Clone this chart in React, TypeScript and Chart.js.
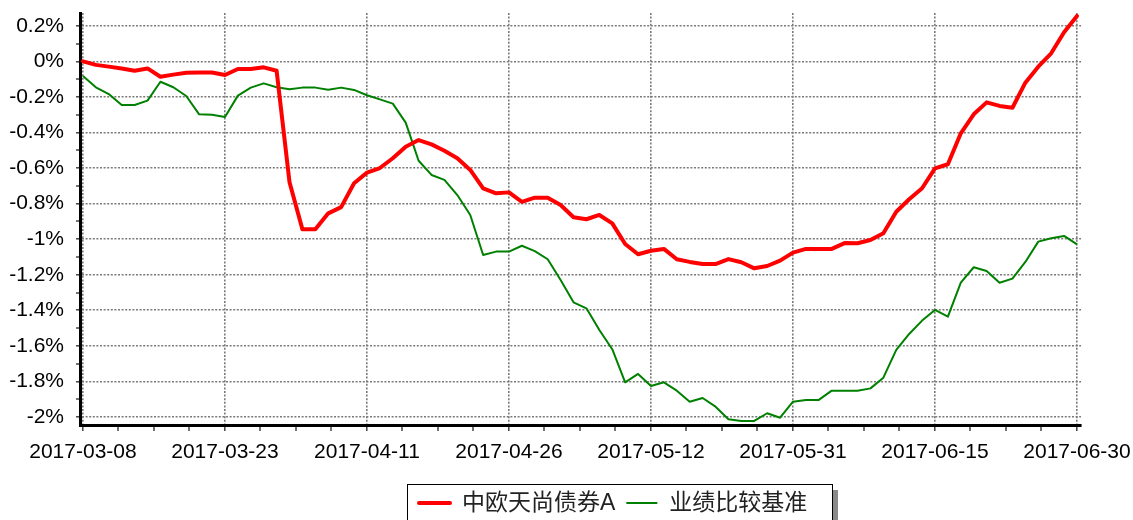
import React, { useEffect, useRef } from 'react';
import { Chart, registerables } from 'chart.js';

Chart.register(...registerables);

const dates: string[] = [
  '2017-03-08', '2017-03-09', '2017-03-10', '2017-03-13', '2017-03-14', '2017-03-15', '2017-03-16', '2017-03-17', '2017-03-20', '2017-03-21', '2017-03-22', '2017-03-23', '2017-03-24', '2017-03-27', '2017-03-28', '2017-03-29', '2017-03-30', '2017-03-31',
  '2017-04-05', '2017-04-06', '2017-04-07', '2017-04-10', '2017-04-11', '2017-04-12', '2017-04-13', '2017-04-14', '2017-04-17', '2017-04-18', '2017-04-19', '2017-04-20', '2017-04-21', '2017-04-24', '2017-04-25', '2017-04-26', '2017-04-27', '2017-04-28',
  '2017-05-02', '2017-05-03', '2017-05-04', '2017-05-05', '2017-05-08', '2017-05-09', '2017-05-10', '2017-05-11', '2017-05-12', '2017-05-15', '2017-05-16', '2017-05-17', '2017-05-18', '2017-05-19', '2017-05-22', '2017-05-23', '2017-05-24', '2017-05-25', '2017-05-26', '2017-05-31',
  '2017-06-01', '2017-06-02', '2017-06-05', '2017-06-06', '2017-06-07', '2017-06-08', '2017-06-09', '2017-06-12', '2017-06-13', '2017-06-14', '2017-06-15', '2017-06-16', '2017-06-19', '2017-06-20', '2017-06-21', '2017-06-22', '2017-06-23', '2017-06-26', '2017-06-27', '2017-06-28', '2017-06-29', '2017-06-30',
];

const fundName = '中欧天尚债券A';
const benchName = '业绩比较基准';

// cumulative return, %
const fundValues: number[] = [
  0.0, -0.02, -0.03, -0.04, -0.053, -0.04, -0.087, -0.075, -0.064, -0.063, -0.063, -0.077, -0.043, -0.043, -0.034, -0.053, -0.68, -0.945,
  -0.945, -0.855, -0.82, -0.686, -0.626, -0.6, -0.545, -0.48, -0.443, -0.467, -0.503, -0.545, -0.611, -0.714, -0.742, -0.737, -0.79, -0.767,
  -0.767, -0.808, -0.877, -0.888, -0.864, -0.911, -1.027, -1.085, -1.065, -1.055, -1.113, -1.128, -1.14, -1.14, -1.112, -1.13, -1.164, -1.151, -1.121, -1.076,
  -1.055, -1.055, -1.055, -1.022, -1.023, -1.005, -0.967, -0.846, -0.776, -0.714, -0.602, -0.579, -0.405, -0.298, -0.231, -0.251, -0.261, -0.12, -0.03, 0.045, 0.163, 0.255,
];

const benchValues: number[] = [
  -0.083, -0.146, -0.184, -0.246, -0.246, -0.221, -0.115, -0.146, -0.195, -0.298, -0.3, -0.313, -0.193, -0.148, -0.124, -0.146, -0.157, -0.148,
  -0.148, -0.16, -0.148, -0.161, -0.191, -0.214, -0.238, -0.345, -0.559, -0.639, -0.667, -0.752, -0.864, -1.089, -1.07, -1.07, -1.037, -1.067,
  -1.113, -1.23, -1.355, -1.389, -1.511, -1.619, -1.805, -1.758, -1.826, -1.805, -1.852, -1.914, -1.893, -1.942, -2.013, -2.022, -2.022, -1.979, -2.004, -1.914,
  -1.904, -1.904, -1.852, -1.852, -1.852, -1.839, -1.779, -1.623, -1.533, -1.458, -1.398, -1.436, -1.245, -1.158, -1.179, -1.245, -1.222, -1.128, -1.014, -0.995, -0.982, -1.029,
];

// y ticks (every 0.1%, labelled every 0.2%)
const yTicks: number[] = [
  -2.0, -1.9, -1.8, -1.7, -1.6, -1.5, -1.4, -1.3, -1.2, -1.1, -1.0, -0.9, -0.8, -0.7, -0.6, -0.5, -0.4, -0.3, -0.2, -0.1, 0.0, 0.1, 0.2,
];

const labelEvery = 11; // a date label every 11 trading days
const minorPerLabel = 4; // tick marks between labels

const FONT = '"Liberation Sans", Arial, "Noto Sans CJK SC", sans-serif';

const isMajorX = (v: number) => Math.abs(v / labelEvery - Math.round(v / labelEvery)) < 1e-6;
const isMajorY = (v: number) => Math.round(v * 10) % 2 === 0;

export default function App() {
  const ref = useRef<HTMLCanvasElement | null>(null);

  useEffect(() => {
    if (!ref.current) return;
    const minorStep = labelEvery / minorPerLabel;
    const xTickValues: number[] = [];
    for (let v = 0; v <= dates.length - 1 + 1e-9; v += minorStep) xTickValues.push(Math.round(v * 100) / 100);

    const legendBox = {
      id: 'legendBox',
      afterDraw(chart: any) {
        const ctx: CanvasRenderingContext2D = chart.ctx;
        const left = 407;
        const top = 484;
        const right = 832;
        const cy = 503;
        ctx.save();
        // shadow
        ctx.fillStyle = '#8a8a8a';
        ctx.fillRect(right + 1, top + 6, 5, 40);
        ctx.fillStyle = '#ffffff';
        ctx.fillRect(left, top, right - left, 40);
        ctx.strokeStyle = '#000000';
        ctx.lineWidth = 1;
        ctx.strokeRect(left + 0.5, top + 0.5, right - left, 40);
        ctx.font = `23px ${FONT}`;
        ctx.textBaseline = 'middle';
        ctx.textAlign = 'left';
        let x = left + 12;
        chart.data.datasets.forEach((ds: any) => {
          ctx.beginPath();
          ctx.strokeStyle = ds.borderColor;
          ctx.lineWidth = ds.borderWidth;
          ctx.lineCap = ds.borderWidth > 3 ? 'round' : 'butt';
          ctx.moveTo(x, cy);
          ctx.lineTo(x + 31, cy);
          ctx.stroke();
          x += 31 + 12;
          ctx.fillStyle = '#222222';
          ctx.fillText(ds.label, x, cy + 1);
          x += ctx.measureText(ds.label).width + 11;
        });
        ctx.restore();
      },
    };

    const gridColor = '#7a7a7a';

    const chart = new Chart(ref.current, {
      type: 'line',
      data: {
        datasets: [
          {
            label: fundName,
            data: fundValues.map((v, i) => ({ x: i, y: v })),
            borderColor: '#ff0000',
            borderWidth: 4,
            pointRadius: 0,
            tension: 0,
            borderJoinStyle: 'round',
            borderCapStyle: 'round',
          },
          {
            label: benchName,
            data: benchValues.map((v, i) => ({ x: i, y: v })),
            borderColor: '#008000',
            borderWidth: 2,
            pointRadius: 0,
            tension: 0,
            borderJoinStyle: 'round',
          },
        ],
      },
      options: {
        responsive: false,
        animation: false,
        events: [],
        layout: { padding: { left: 0, right: 52, top: 13, bottom: 0 } },
        plugins: {
          legend: { display: false },
          tooltip: { enabled: false },
        },
        scales: {
          x: {
            type: 'linear',
            min: -0.23,
            max: 77.31,
            bounds: 'data',
            afterBuildTicks: (s: any) => {
              s.ticks = xTickValues.map((v) => ({ value: v }));
            },
            afterFit: (s: any) => {
              s.height = 95;
              s.paddingLeft = 0;
              s.paddingRight = 0;
              s.paddingTop = 0;
              s.paddingBottom = 0;
            },
            border: { display: true, color: '#000000', width: 3, dash: [2, 1.6] },
            grid: {
              color: (c: any) => (c.tick && isMajorX(c.tick.value) ? gridColor : 'rgba(0,0,0,0)'),
              lineWidth: (c: any) => (c.tick && isMajorX(c.tick.value) ? 1.6 : 0),
              tickColor: '#444444',
              tickWidth: 1.5,
              tickLength: 6,
              drawTicks: true,
            },
            ticks: {
              autoSkip: false,
              maxRotation: 0,
              minRotation: 0,
              padding: 9,
              color: '#000000',
              font: { family: FONT, size: 21 },
              callback: (value: any) => {
                const v = Number(value);
                return isMajorX(v) ? dates[Math.round(v)] : '';
              },
            },
          },
          y: {
            type: 'linear',
            min: -2.045,
            max: 0.2716,
            bounds: 'data',
            afterBuildTicks: (s: any) => {
              s.ticks = yTicks.map((v) => ({ value: v }));
            },
            afterFit: (s: any) => {
              s.width = 80;
              s.paddingLeft = 0;
              s.paddingRight = 0;
              s.paddingTop = 0;
              s.paddingBottom = 0;
            },
            border: { display: true, color: '#000000', width: 3, dash: [2, 1.6] },
            grid: {
              color: (c: any) => (c.tick && isMajorY(c.tick.value) ? gridColor : 'rgba(0,0,0,0)'),
              lineWidth: (c: any) => (c.tick && isMajorY(c.tick.value) ? 1.6 : 0),
              tickColor: '#444444',
              tickWidth: 1.5,
              tickLength: 4,
              drawTicks: true,
            },
            ticks: {
              autoSkip: false,
              padding: 12,
              color: '#000000',
              font: { family: FONT, size: 21 },
              callback: (value: any) => {
                const v = Number(value);
                return isMajorY(v) ? `${parseFloat(v.toFixed(1))}%` : '';
              },
            },
          },
        },
      },
      plugins: [legendBox],
    } as any);

    return () => chart.destroy();
  }, []);

  return (
    <div style={{ position: 'fixed', left: 0, top: 0, width: 1133, height: 520, background: '#ffffff' }}>
      <canvas ref={ref} width={1133} height={520} style={{ display: 'block', width: 1133, height: 520 }} />
    </div>
  );
}
